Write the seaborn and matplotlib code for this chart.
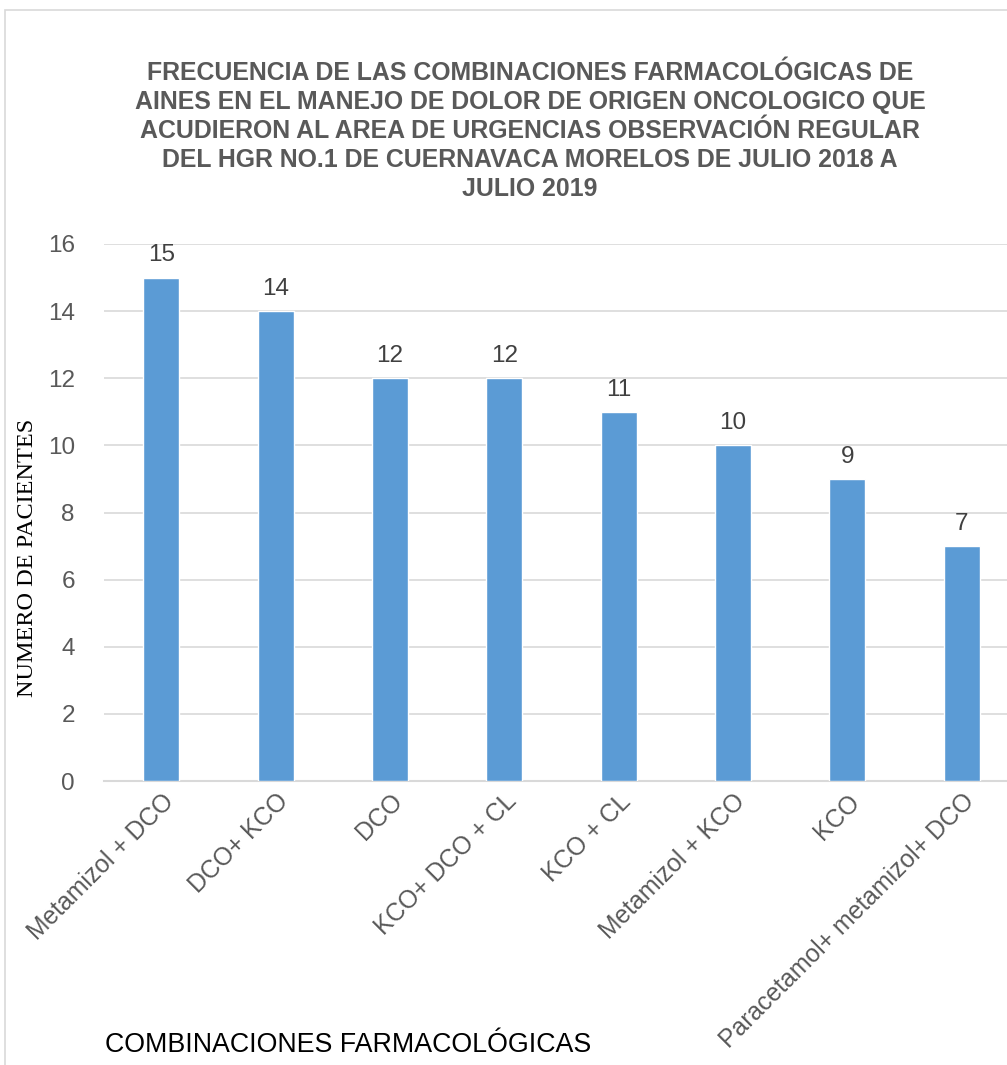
import matplotlib
matplotlib.use("Agg")
import matplotlib.pyplot as plt
import seaborn as sns
import pandas as pd
from matplotlib.patches import Rectangle

categories = ["Metamizol + DCO", "DCO+ KCO", "DCO", "KCO+ DCO + CL", "KCO + CL",
              "Metamizol + KCO", "KCO", "Paracetamol+ metamizol+ DCO"]
values = [15, 14, 12, 12, 11, 10, 9, 7]
yticks = [0, 2, 4, 6, 8, 10, 12, 14, 16]

title = ("FRECUENCIA DE LAS COMBINACIONES FARMACOLÓGICAS DE\n"
         "AINES EN EL MANEJO DE DOLOR DE ORIGEN ONCOLOGICO QUE\n"
         "ACUDIERON AL AREA DE URGENCIAS OBSERVACIÓN REGULAR\n"
         "DEL HGR NO.1 DE CUERNAVACA MORELOS DE JULIO 2018 A\n"
         "JULIO 2019")

df = pd.DataFrame({"cat": categories, "val": values})

sns.set_theme(style="white")
plt.rcParams['font.family'] = ['Liberation Sans', 'DejaVu Sans']

W, H = 1007, 1065
fig = plt.figure(figsize=(W / 100, H / 100), dpi=100)
fig.patch.set_facecolor("white")

# chart border
fig.patches.append(Rectangle((5 / W, 1 - 1100 / H), 1100 / W, 1090 / H,
                             transform=fig.transFigure, fill=False,
                             edgecolor="#D9D9D9", linewidth=1.2))

left, right = 104, 1019
top, bottom = 244, 781
ax = fig.add_axes([left / W, 1 - bottom / H, (right - left) / W, (bottom - top) / H])

sns.barplot(data=df, x="cat", y="val", color="#5B9BD5", width=0.315,
            saturation=1, ax=ax, zorder=3)

ax.set_ylim(0, 16)
ax.set_xlim(-0.5, len(categories) - 0.5)
ax.set_yticks(yticks)
ax.set_yticklabels([str(t) for t in yticks], fontsize=17.5, color="#595959")
ax.yaxis.grid(True, color="#D9D9D9", linewidth=1.2, zorder=0)
ax.xaxis.grid(False)
for s in ["top", "right", "left"]:
    ax.spines[s].set_visible(False)
ax.spines["bottom"].set_color("#D9D9D9")
ax.spines["bottom"].set_linewidth(1.5)
ax.tick_params(axis="y", length=0, pad=21)
ax.tick_params(axis="x", length=0, pad=6)

ax.set_xticks(range(len(categories)))
ax.set_xticklabels(categories, rotation=45, ha="right", va="top",
                   rotation_mode="anchor", fontsize=17.8, color="#595959")

for container in ax.containers:
    ax.bar_label(container, labels=[str(v) for v in values], padding=8,
                 fontsize=17.5, color="#404040")

ax.set_xlabel("")
ax.set_ylabel("")

fig.text(530 / W, 1 - 131 / H, title, ha="center", va="center",
         fontsize=17.9, fontweight="bold", color="#595959", linespacing=1.27)

fig.text(28 / W, 1 - 558 / H, "NUMERO DE PACIENTES", rotation=90,
         ha="center", va="center", fontsize=17.5, color="black",
         family=["Liberation Serif", "DejaVu Serif"])

fig.text(105 / W, 1 - 1045 / H, "COMBINACIONES FARMACOLÓGICAS",
         ha="left", va="center", fontsize=19.3, color="black")

fig.savefig("out.png", dpi=100, facecolor="white")
